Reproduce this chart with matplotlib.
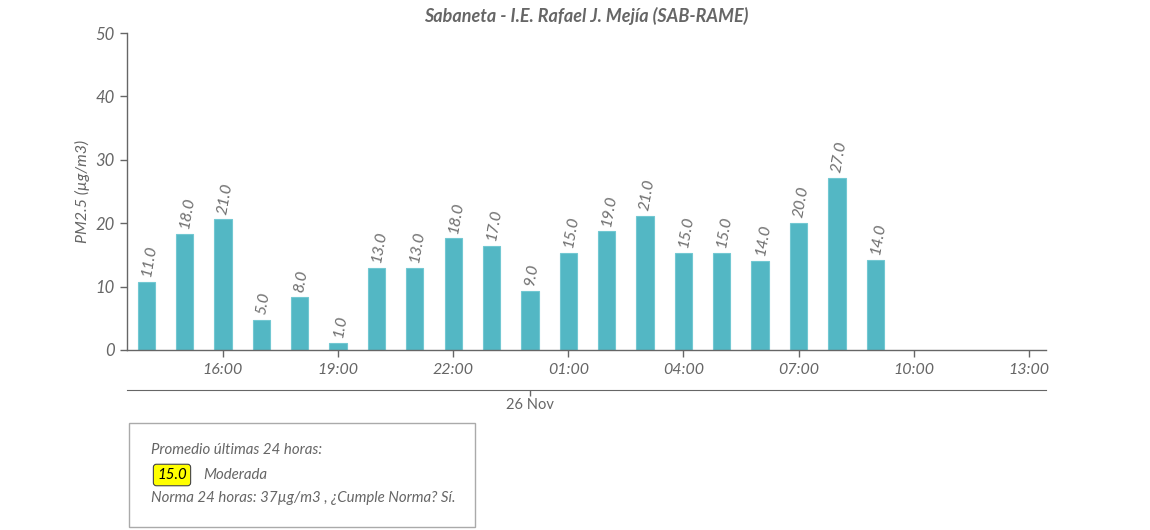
import matplotlib
matplotlib.use("Agg")
import matplotlib.pyplot as plt
import matplotlib.dates as mdates
from matplotlib.patches import Rectangle
import pandas as pd

plt.rcParams["font.family"] = ["Lato", "DejaVu Sans"]

# Hourly PM2.5 readings (bar heights) and their rounded labels
hours = pd.date_range("2023-11-25 14:00", periods=20, freq="h")
pm25 = [10.8, 18.3, 20.6, 4.7, 8.3, 1.05, 12.9, 12.9, 17.6, 16.35,
        9.25, 15.25, 18.7, 21.2, 15.25, 15.25, 14.0, 20.0, 27.1, 14.2]
labels = ["11.0", "18.0", "21.0", "5.0", "8.0", "1.0", "13.0", "13.0", "18.0", "17.0",
          "9.0", "15.0", "19.0", "21.0", "15.0", "15.0", "14.0", "20.0", "27.0", "14.0"]

x_start = pd.Timestamp("2023-11-25 13:30")
x_end = pd.Timestamp("2023-11-26 13:27")
tick_times = pd.date_range("2023-11-25 16:00", periods=8, freq="3h")
day_tick = pd.Timestamp("2023-11-26 00:00")

title = "Sabaneta - I.E. Rafael J. Mejía (SAB-RAME)"
avg_value = "15.0"
avg_category = "Moderada"

GREY = "#666666"
BAR = "#53b7c4"

fig = plt.figure(figsize=(11.5, 5.3), dpi=100)
ax = fig.add_axes([127 / 1150, 180 / 530, 919 / 1150, 317 / 530])

ax.bar(hours, pm25, width=0.45 / 24, color=BAR, edgecolor="#72c8d2", linewidth=0.8)
for t, v, lab in zip(hours, pm25, labels):
    ax.annotate(lab, (t, v), xytext=(0, 4), textcoords="offset points",
                rotation=80, rotation_mode="anchor", ha="left", va="center",
                fontsize=11.5, style="italic", color="#6e6e6e")

ax.set_xlim(x_start, x_end)
ax.set_ylim(0, 50)
ax.set_yticks([0, 10, 20, 30, 40, 50])
ax.set_xticks(tick_times)
ax.xaxis.set_major_formatter(mdates.DateFormatter("%H:%M"))

for s in ["top", "right"]:
    ax.spines[s].set_visible(False)
for s in ["left", "bottom"]:
    ax.spines[s].set_color(GREY)
    ax.spines[s].set_linewidth(1)
ax.tick_params(axis="both", colors=GREY, length=5, width=1)
ax.tick_params(axis="y", labelsize=12, pad=4)
ax.tick_params(axis="x", labelsize=11.5, pad=4)
for lab in ax.get_xticklabels() + ax.get_yticklabels():
    lab.set_style("italic")
    lab.set_color(GREY)

ax.set_ylabel("PM2.5 (µg/m3)", fontsize=11.5, style="italic", color=GREY, labelpad=4)
ax.set_title(title, fontsize=13, fontweight="bold", style="italic", color=GREY, pad=8)

# second date axis below
sec = ax.secondary_xaxis(-40 / 317)
sec.set_xticks([day_tick])
sec.set_xticklabels(["26 Nov"])
sec.spines["bottom"].set_color(GREY)
sec.tick_params(colors=GREY, length=4, width=1, labelsize=10.5, pad=2)
for lab in sec.get_xticklabels():
    lab.set_color(GREY)

# summary box
fig.patches.append(Rectangle((129 / 1150, 3 / 530), 346 / 1150, 104 / 530,
                             transform=fig.transFigure, fill=False,
                             edgecolor="#aaaaaa", linewidth=1))
fig.text(151 / 1150, 1 - 450 / 530, "Promedio últimas 24 horas:", fontsize=10.8,
         style="italic", color=GREY, va="center")
fig.text(172 / 1150, 1 - 475 / 530, avg_value, fontsize=10.8, style="italic",
         color="black", va="center", ha="center",
         bbox=dict(boxstyle="round,pad=0.25,rounding_size=0.2",
                   facecolor="#ffff00", edgecolor="#444444", linewidth=0.8))
fig.text(203 / 1150, 1 - 475 / 530, avg_category, fontsize=10.8, style="italic",
         color=GREY, va="center")
fig.text(151 / 1150, 1 - 498 / 530, "Norma 24 horas: 37µg/m3 , ¿Cumple Norma? Sí.",
         fontsize=10.8, style="italic", color=GREY, va="center")

fig.savefig("out.png", dpi=100)
